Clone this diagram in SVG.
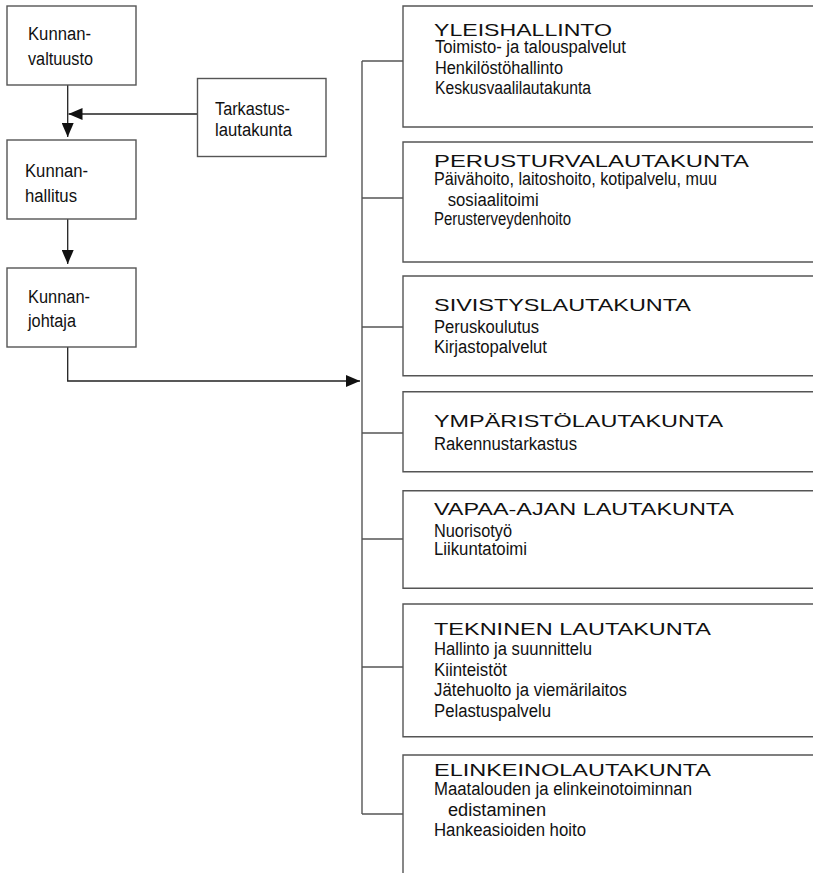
<svg xmlns="http://www.w3.org/2000/svg" width="813" height="873" viewBox="0 0 813 873">
<style>
.box{fill:#fff;stroke:#555;stroke-width:1.4}
.edge{fill:none;stroke:#555;stroke-width:1.4}
.con{fill:none;stroke:#222;stroke-width:1.3}
text{font-family:"Liberation Sans",Arial,sans-serif;fill:#111}
.t{font-size:18px}
.h{font-size:16.5px}
</style>
<defs>
<marker id="arr" markerUnits="userSpaceOnUse" markerWidth="14" markerHeight="12" refX="14" refY="6" orient="auto">
<path d="M0,0 L14,6 L0,12 Z" fill="#111"/>
</marker>
</defs>
<g id="connectors">
<line class="con" x1="67.7" y1="85" x2="67.7" y2="137" marker-end="url(#arr)"/>
<line class="con" x1="197" y1="114" x2="68.5" y2="114" marker-end="url(#arr)"/>
<line class="con" x1="67.7" y1="219" x2="67.7" y2="264" marker-end="url(#arr)"/>
<polyline class="con" points="67.7,347 67.7,381 360,381" marker-end="url(#arr)"/>
<line class="edge" x1="362" y1="61" x2="362" y2="814"/>
<line class="edge" x1="362" y1="61" x2="403" y2="61"/>
<line class="edge" x1="362" y1="198" x2="403" y2="198"/>
<line class="edge" x1="362" y1="327" x2="403" y2="327"/>
<line class="edge" x1="362" y1="433" x2="403" y2="433"/>
<line class="edge" x1="362" y1="539" x2="403" y2="539"/>
<line class="edge" x1="362" y1="667" x2="403" y2="667"/>
<line class="edge" x1="362" y1="814" x2="403" y2="814"/>
</g>
<g id="kunnanvaltuusto">
<rect class="box" x="7" y="6" width="129" height="79"/>
<text class="t" x="28" y="40" textLength="63" lengthAdjust="spacingAndGlyphs">Kunnan-</text>
<text class="t" x="28" y="65" textLength="65" lengthAdjust="spacingAndGlyphs">valtuusto</text>
</g>
<g id="tarkastuslautakunta">
<rect class="box" x="197.5" y="78.5" width="128.5" height="78"/>
<text class="t" x="215" y="115" textLength="75" lengthAdjust="spacingAndGlyphs">Tarkastus-</text>
<text class="t" x="215" y="136" textLength="77" lengthAdjust="spacingAndGlyphs">lautakunta</text>
</g>
<g id="kunnanhallitus">
<rect class="box" x="7" y="140" width="129" height="79"/>
<text class="t" x="25" y="177" textLength="63" lengthAdjust="spacingAndGlyphs">Kunnan-</text>
<text class="t" x="25" y="202" textLength="52" lengthAdjust="spacingAndGlyphs">hallitus</text>
</g>
<g id="kunnanjohtaja">
<rect class="box" x="7" y="268" width="129" height="79"/>
<text class="t" x="28" y="303" textLength="62" lengthAdjust="spacingAndGlyphs">Kunnan-</text>
<text class="t" x="28" y="327" textLength="48" lengthAdjust="spacingAndGlyphs">johtaja</text>
</g>
<g id="yleishallinto">
<path class="edge" d="M815,6 H403 V127 H815"/>
<text class="h" x="434" y="35.5" textLength="178" lengthAdjust="spacingAndGlyphs">YLEISHALLINTO</text>
<text class="t" x="435" y="53" textLength="191" lengthAdjust="spacingAndGlyphs">Toimisto- ja talouspalvelut</text>
<text class="t" x="435" y="74" textLength="128" lengthAdjust="spacingAndGlyphs">Henkilöstöhallinto</text>
<text class="t" x="435" y="94" textLength="156" lengthAdjust="spacingAndGlyphs">Keskusvaalilautakunta</text>
</g>
<g id="perusturvalautakunta">
<path class="edge" d="M815,142 H403 V262 H815"/>
<text class="h" x="434" y="166.5" textLength="315" lengthAdjust="spacingAndGlyphs">PERUSTURVALAUTAKUNTA</text>
<text class="t" x="434" y="185" textLength="283" lengthAdjust="spacingAndGlyphs">Päivähoito, laitoshoito, kotipalvelu, muu</text>
<text class="t" x="447.7" y="206" textLength="91" lengthAdjust="spacingAndGlyphs">sosiaalitoimi</text>
<text class="t" x="434" y="225" textLength="137" lengthAdjust="spacingAndGlyphs">Perusterveydenhoito</text>
</g>
<g id="sivistyslautakunta">
<path class="edge" d="M815,276 H403 V375.7 H815"/>
<text class="h" x="434" y="310.5" textLength="257" lengthAdjust="spacingAndGlyphs">SIVISTYSLAUTAKUNTA</text>
<text class="t" x="434" y="333" textLength="105" lengthAdjust="spacingAndGlyphs">Peruskoulutus</text>
<text class="t" x="434" y="353" textLength="113" lengthAdjust="spacingAndGlyphs">Kirjastopalvelut</text>
</g>
<g id="ymparistolautakunta">
<path class="edge" d="M815,391.7 H403 V471.7 H815"/>
<text class="h" x="434" y="426.5" textLength="289" lengthAdjust="spacingAndGlyphs">YMPÄRISTÖLAUTAKUNTA</text>
<text class="t" x="434" y="450" textLength="143" lengthAdjust="spacingAndGlyphs">Rakennustarkastus</text>
</g>
<g id="vapaa-ajan-lautakunta">
<path class="edge" d="M815,490.7 H403 V588.3 H815"/>
<text class="h" x="434" y="515" textLength="300" lengthAdjust="spacingAndGlyphs">VAPAA-AJAN LAUTAKUNTA</text>
<text class="t" x="434" y="536.5" textLength="78" lengthAdjust="spacingAndGlyphs">Nuorisotyö</text>
<text class="t" x="434" y="555" textLength="93" lengthAdjust="spacingAndGlyphs">Liikuntatoimi</text>
</g>
<g id="tekninen-lautakunta">
<path class="edge" d="M815,604 H403 V736.7 H815"/>
<text class="h" x="434" y="635" textLength="277" lengthAdjust="spacingAndGlyphs">TEKNINEN LAUTAKUNTA</text>
<text class="t" x="434" y="655" textLength="158" lengthAdjust="spacingAndGlyphs">Hallinto ja suunnittelu</text>
<text class="t" x="434" y="676" textLength="73" lengthAdjust="spacingAndGlyphs">Kiinteistöt</text>
<text class="t" x="434" y="696" textLength="193" lengthAdjust="spacingAndGlyphs">Jätehuolto ja viemärilaitos</text>
<text class="t" x="434" y="716.5" textLength="117" lengthAdjust="spacingAndGlyphs">Pelastuspalvelu</text>
</g>
<g id="elinkeinolautakunta">
<path class="edge" d="M815,755 H403 V875"/>
<text class="h" x="434" y="775.5" textLength="277" lengthAdjust="spacingAndGlyphs">ELINKEINOLAUTAKUNTA</text>
<text class="t" x="434" y="795" textLength="258" lengthAdjust="spacingAndGlyphs">Maatalouden ja elinkeinotoiminnan</text>
<text class="t" x="448" y="816" textLength="98" lengthAdjust="spacingAndGlyphs">edistaminen</text>
<text class="t" x="434" y="836" textLength="152" lengthAdjust="spacingAndGlyphs">Hankeasioiden hoito</text>
</g>
</svg>
